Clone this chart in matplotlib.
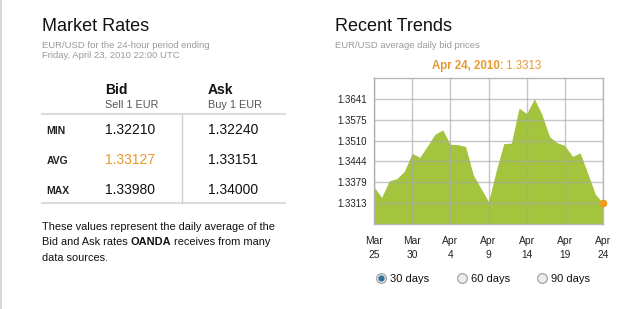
#!/usr/bin/env python3

import matplotlib
matplotlib.use('Agg')
import matplotlib.pyplot as plt
import pandas as pd

plt.rcParams['font.family'] = ['Liberation Sans', 'DejaVu Sans']

# market rates table
row_names = ['MIN', 'AVG', 'MAX']
bid_values = ['1.32210', '1.33127', '1.33980']
ask_values = ['1.32240', '1.33151', '1.34000']

# recent trends: daily average bid, Mar 25 - Apr 24 2010
days = pd.date_range('2010-03-25', '2010-04-24', freq='D')
bid_prices = [1.3364, 1.3331, 1.3383, 1.3390, 1.3414, 1.3470, 1.3457,
              1.3493, 1.3530, 1.3543, 1.3498, 1.3497, 1.3491, 1.3402,
              1.3360, 1.3318, 1.3414, 1.3500, 1.3502, 1.3612, 1.3595,
              1.3641, 1.3592, 1.3522, 1.3503, 1.3494, 1.3460, 1.3471,
              1.3407, 1.3341, 1.3313]
y_ticks = [1.3313, 1.3379, 1.3444, 1.3510, 1.3575, 1.3641]
x_tick_days = pd.date_range('2010-03-25', '2010-04-24', freq='5D')
x_tick_labels = ['Mar\n25', 'Mar\n30', 'Apr\n4', 'Apr\n9', 'Apr\n14', 'Apr\n19', 'Apr\n24']
periods = ['30 days', '60 days', '90 days']

ORANGE = '#E8982E'
GREEN = '#A3C43C'
DARK = '#111111'
GREY = '#9a9a9a'


def place_in_row(arts, x, renderer, center=False):
    # lay text pieces out left to right, starting at x (or centred on x)
    widths = [a.get_window_extent(renderer).width for a in arts]
    xpos = x - sum(widths) / 2 if center else x
    for a, w in zip(arts, widths):
        a.set_x(xpos)
        xpos += w


fig = plt.figure(figsize=(6.25, 3.09), dpi=100)
renderer = fig.canvas.get_renderer()

# background axes in pixel coordinates
bg = fig.add_axes([0, 0, 1, 1])
bg.set_xlim(0, 625)
bg.set_ylim(309, 0)
bg.axis('off')

bg.plot([1, 1], [0, 309], color='#d0d0d0', lw=1.2)

# ---- Market Rates ----
bg.text(42, 31, 'Market Rates', fontsize=13, color=DARK, va='baseline')
bg.text(42, 47.5, 'EUR/USD for the 24-hour period ending', fontsize=6.8, color=GREY, va='baseline')
bg.text(42, 58.5, 'Friday, April 23, 2010 22:00 UTC', fontsize=6.8, color=GREY, va='baseline')

bid_x, ask_x = 105, 208
bg.text(bid_x, 94, 'Bid', fontsize=10, fontweight='bold', color=DARK, va='baseline')
bg.text(ask_x, 94, 'Ask', fontsize=10, fontweight='bold', color=DARK, va='baseline')
bg.text(bid_x, 108.3, 'Sell 1 EUR', fontsize=7.8, color='#555555', va='baseline')
bg.text(ask_x, 108.3, 'Buy 1 EUR', fontsize=7.8, color='#555555', va='baseline')

bg.plot([42, 285], [114, 114], color='#dcdcdc', lw=1.5)
bg.plot([42, 285], [203.3, 203.3], color='#dcdcdc', lw=1.5)
bg.plot([181.7, 181.7], [114, 203.3], color='#d0d0d0', lw=1)

row_base = [134, 164, 194.3]
for i, name in enumerate(row_names):
    yb = row_base[i]
    bg.text(46.5, yb, name, fontsize=7.5, fontweight='bold', color='#222222', va='baseline')
    bid_col = ORANGE if name == 'AVG' else DARK
    bg.text(bid_x, yb, bid_values[i], fontsize=10, color=bid_col, va='baseline')
    bg.text(ask_x, yb, ask_values[i], fontsize=10, color=DARK, va='baseline')

para_size = 7.9
bg.text(42, 229.6, 'These values represent the daily average of the', fontsize=para_size,
        color=DARK, va='baseline')
pieces = [('Bid and Ask rates ', 'normal'), ('OANDA', 'bold'), (' receives from many', 'normal')]
arts = [bg.text(42, 245.2, p, fontsize=para_size, fontweight=w, color=DARK, va='baseline')
        for p, w in pieces]
place_in_row(arts, 42, renderer)
bg.text(42, 260.6, 'data sources.', fontsize=para_size, color=DARK, va='baseline')

# ---- Recent Trends ----
bg.text(335, 31, 'Recent Trends', fontsize=13, color=DARK, va='baseline')
bg.text(335, 47.8, 'EUR/USD average daily bid prices', fontsize=6.8, color=GREY, va='baseline')

last_label = days[-1].strftime('%b %d, %Y:').replace(' 0', ' ')
hdr = [bg.text(0, 69.3, last_label, fontsize=8.3, fontweight='bold', color=ORANGE, va='baseline'),
       bg.text(0, 69.3, ' %.4f' % bid_prices[-1], fontsize=8.3, color=ORANGE, va='baseline')]
place_in_row(hdr, 486.7, renderer, center=True)

# radio buttons
radio_x = [381, 461.7, 541.7]
for i, label in enumerate(periods):
    bg.plot(radio_x[i], 278, 'o', ms=7, mfc='#ececec', mec='#9a9a9a', mew=0.8)
    if i == 0:
        bg.plot(radio_x[i], 278, 'o', ms=3.5, mfc='#2f6f9f', mec='#2f6f9f')
    bg.text(radio_x[i] + 9, 281.7, label, fontsize=8, color=DARK, va='baseline')

# chart
ax = fig.add_axes([374 / 625, 1 - 224 / 309, (603 - 374) / 625, (224 - 78) / 309])
step = (y_ticks[-1] - y_ticks[0]) / 5
ylo, yhi = y_ticks[0] - step, y_ticks[-1] + step
ax.fill_between(days, bid_prices, ylo, color=GREEN, lw=0, zorder=1)
ax.plot(days[-1], bid_prices[-1], 'o', ms=4.5, color='#F39A1C', zorder=5, clip_on=False)
ax.set_xlim(days[0], days[-1])
ax.set_ylim(ylo, yhi)
ax.set_yticks(y_ticks)
ax.set_yticklabels(['%.4f' % v for v in y_ticks])
ax.set_xticks(x_tick_days)
ax.set_xticklabels(x_tick_labels, linespacing=1.4)
ax.tick_params(length=0, colors='#222222')
ax.tick_params(axis='y', pad=5, labelsize=7)
ax.tick_params(axis='x', pad=9, labelsize=7.4)
for lbl in ax.get_xticklabels():
    lbl.set_horizontalalignment('center')
ax.grid(True, color='#a8a8a8', lw=1, alpha=0.65, zorder=3)
ax.set_axisbelow(False)
for s in ax.spines.values():
    s.set_color('#b8b8b8')
    s.set_linewidth(1)

fig.savefig('out.png', dpi=100)
